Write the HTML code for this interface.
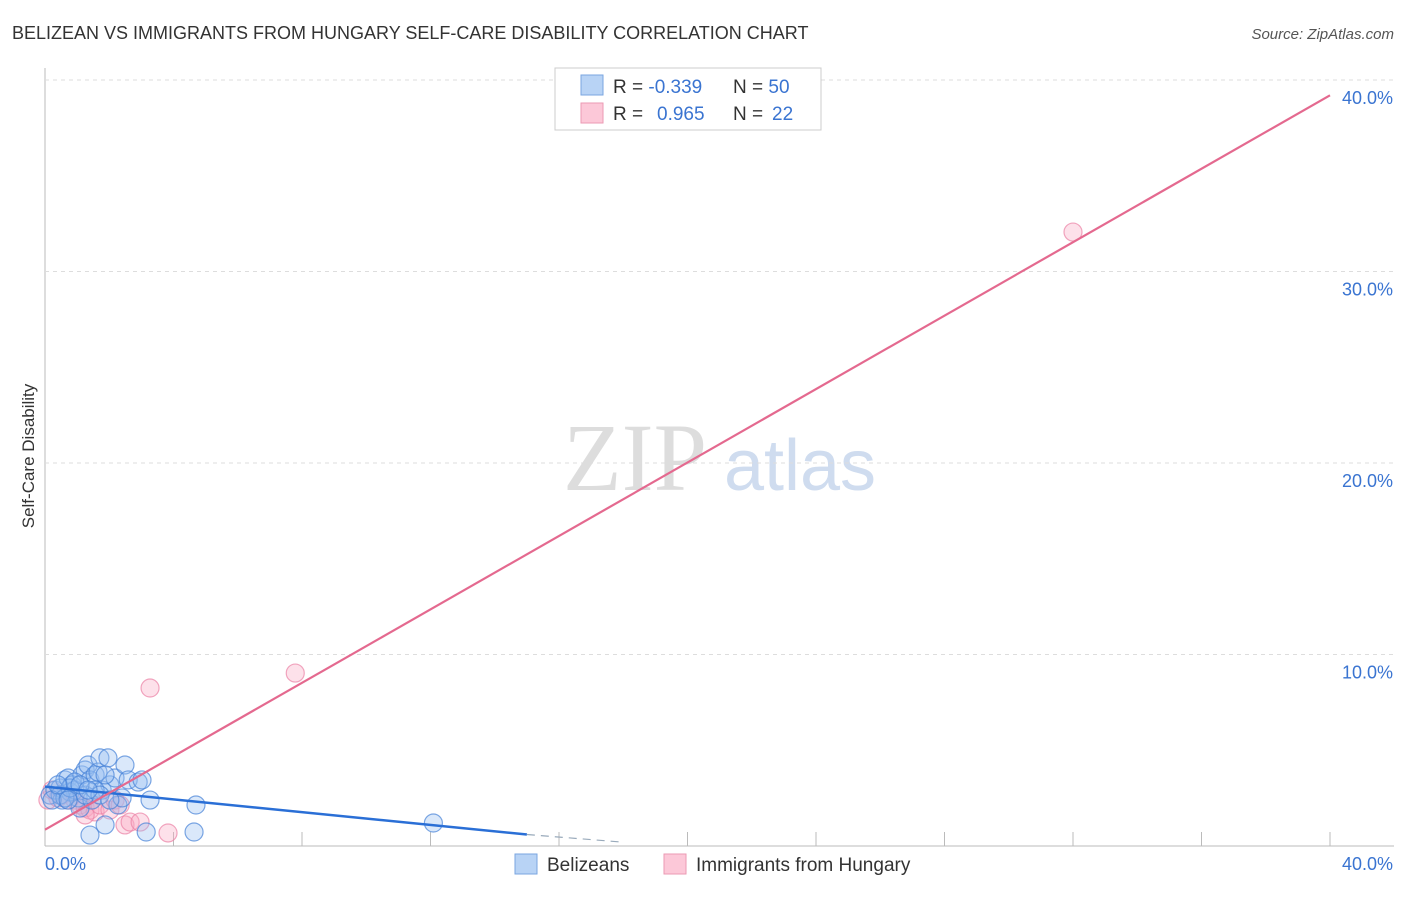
<!DOCTYPE html>
<html><head><meta charset="utf-8"><style>
body{margin:0;background:#fff;font-family:"Liberation Sans",sans-serif}
</style></head><body>
<svg id="chart" width="1406" height="892" xmlns="http://www.w3.org/2000/svg" font-family="Liberation Sans, sans-serif">
<text x="12" y="39" font-size="18" fill="#333">BELIZEAN VS IMMIGRANTS FROM HUNGARY SELF-CARE DISABILITY CORRELATION CHART</text>
<text x="1394" y="39" font-size="15" fill="#555" font-style="italic" text-anchor="end">Source: ZipAtlas.com</text>
<text x="34" y="456" font-size="17" fill="#333" text-anchor="middle" transform="rotate(-90 34 456)">Self-Care Disability</text>
<g><text x="635" y="490" font-size="96" fill="#ddd" font-family="Liberation Serif, serif" text-anchor="middle">ZIP</text><text x="800" y="490" font-size="72" fill="#cfdcef" text-anchor="middle">atlas</text></g>
<g id="grid"></g><g id="pts"></g><g id="lines"></g>
<g>
<rect x="555" y="68" width="266" height="62" fill="#fff" stroke="#ccc"/>
<rect x="581" y="75" width="22" height="20" fill="#b8d3f5" stroke="#7aa6e0"/>
<rect x="581" y="103" width="22" height="20" fill="#fcc8d8" stroke="#eb9ab3"/>
<text x="613" y="93" font-size="19" fill="#333">R = <tspan fill="#3a74d1">-0.339</tspan><tspan x="733">N = </tspan><tspan fill="#3a74d1">50</tspan></text>
<text x="613" y="120" font-size="19" fill="#333">R = <tspan x="657" fill="#3a74d1">0.965</tspan><tspan x="733">N = </tspan><tspan x="772" fill="#3a74d1">22</tspan></text>
</g>
<g>
<rect x="515" y="854" width="22" height="20" fill="#b8d3f5" stroke="#7aa6e0"/>
<text x="547" y="871" font-size="19" fill="#333">Belizeans</text>
<rect x="664" y="854" width="22" height="20" fill="#fcc8d8" stroke="#eb9ab3"/>
<text x="696" y="871" font-size="19" fill="#333">Immigrants from Hungary</text>
</g>
</svg>
<script>
const yTicks=[10,20,30,40];
const xTickLabels=["0.0%","40.0%"];
const blueX=[0.16,0.31,0.47,0.53,0.62,0.72,0.78,0.84,0.93,1.03,1.09,1.15,1.25,1.34,1.40,1.46,1.56,1.65,1.71,1.78,1.87,1.96,2.02,2.18,2.27,2.40,2.49,2.59,2.90,3.02,3.27,4.70,4.64,3.15,1.40,12.09,0.47,0.62,0.78,0.93,0.22,0.40,1.25,1.56,1.71,2.02,1.09,1.34,0.72,1.87];
const blueY=[2.66,2.92,3.03,2.40,3.45,3.55,2.82,3.19,2.92,2.51,1.98,3.71,3.97,4.23,3.45,2.40,3.71,3.86,4.60,2.92,1.10,4.60,3.19,3.55,2.14,2.51,4.23,3.45,3.34,3.45,2.40,2.14,0.73,0.73,0.57,1.20,2.66,2.51,3.03,3.34,2.40,3.19,2.66,2.92,2.66,2.40,3.19,2.92,2.40,3.71];
const pinkX=[0.09,0.22,0.40,0.53,0.72,0.93,1.09,1.25,1.40,1.56,1.71,2.02,2.18,2.34,2.49,2.65,2.96,3.27,3.83,7.79,32.0,1.25];
const pinkY=[2.40,2.92,2.51,2.66,2.40,2.40,2.14,1.98,1.88,1.78,2.14,1.88,2.40,2.14,1.10,1.25,1.25,8.25,0.68,9.03,32.06,1.62];
const blueFit=[0,3.1,15,0.6,18,0.2];
const pinkFit=[0,0.85,40,39.2];
const X=v=>45+v*32.125, Y=v=>846-v*19.15;
const NS="http://www.w3.org/2000/svg";
function mk(tag,attrs,parent){const e=document.createElementNS(NS,tag);for(const k in attrs)e.setAttribute(k,attrs[k]);parent.appendChild(e);return e;}
const g=document.getElementById('grid'),p=document.getElementById('pts'),l=document.getElementById('lines'),svg=document.getElementById('chart');
mk('line',{x1:45,y1:68,x2:45,y2:846,stroke:'#bbb'},g);
mk('line',{x1:45,y1:846,x2:1394,y2:846,stroke:'#bbb'},g);
yTicks.forEach(t=>{
 const ln=mk('line',{x1:45,y1:Y(t),x2:1394,y2:Y(t),stroke:'#ddd','stroke-dasharray':'4,4'},g);
 
 
 const tx=mk('text',{x:1393,y:Y(t)+24,'font-size':18,fill:'#3a74d1','text-anchor':'end'},g);tx.textContent=t.toFixed(1)+'%';
 
 
});
for(let i=1;i<=10;i++){const xv=i*4;const t=mk('line',{x1:X(xv),y1:832,x2:X(xv),y2:846,stroke:'#bbb'},g);
 
 }
const xl0=mk('text',{x:45,y:870,'font-size':18,fill:'#3a74d1'},g);xl0.textContent=xTickLabels[0];


const xl1=mk('text',{x:1393,y:870,'font-size':18,fill:'#3a74d1','text-anchor':'end'},g);xl1.textContent=xTickLabels[1];


pinkX.forEach((x,i)=>{const c=mk('circle',{cx:X(x),cy:Y(pinkY[i]),r:9,fill:'rgba(248,170,195,0.35)',stroke:'rgba(235,130,165,0.7)','stroke-width':1.2},p);
 
 });
blueX.forEach((x,i)=>{const c=mk('circle',{cx:X(x),cy:Y(blueY[i]),r:9,fill:'rgba(150,190,240,0.35)',stroke:'rgba(70,130,215,0.7)','stroke-width':1.2},p);
 
 });
const bl=mk('line',{x1:X(blueFit[0]),y1:Y(blueFit[1]),x2:X(blueFit[2]),y2:Y(blueFit[3]),stroke:'#2a6fd6','stroke-width':2.5},l);


const bd=mk('line',{x1:X(blueFit[2]),y1:Y(blueFit[3]),x2:X(blueFit[4]),y2:Y(blueFit[5]),stroke:'#9ab','stroke-width':1.2,'stroke-dasharray':'8,6'},l);


const pl=mk('line',{x1:X(pinkFit[0]),y1:Y(pinkFit[1]),x2:X(pinkFit[2]),y2:Y(pinkFit[3]),stroke:'#e4698f','stroke-width':2.2},l);


</script>
</body></html>
